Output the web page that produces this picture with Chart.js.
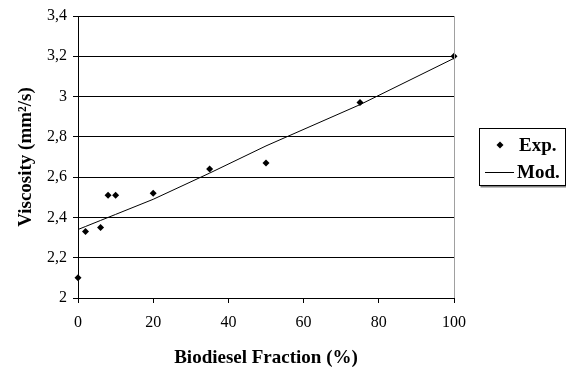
<!DOCTYPE html>
<html>
<head>
<meta charset="utf-8">
<title>Viscosity vs biodiesel fraction</title>
<script src="https://cdn.jsdelivr.net/npm/chart.js@4.4.1/dist/chart.umd.min.js"></script>
<style>
  html, body { margin: 0; padding: 0; background: #fff; }
  #wrap { width: 566px; height: 369px; }
</style>
</head>
<body>
<div id="wrap"><canvas id="viscChart" width="566" height="369"></canvas></div>
<script>
// biodiesel fraction (%) of each blend
const fraction = [0, 2, 6, 8, 10, 20, 35, 50, 75, 100];
// measured viscosity (mm2/s)
const viscosityExp = [2.10, 2.33, 2.35, 2.51, 2.51, 2.52, 2.64, 2.67, 2.97, 3.20];
// model prediction at the same fractions
const viscosityMod = [2.34, 2.355, 2.385, 2.40, 2.415, 2.49, 2.62, 2.755, 2.96, 3.19];

const xTickValues = [0, 20, 40, 60, 80, 100];
const yTickValues = [2, 2.2, 2.4, 2.6, 2.8, 3, 3.2, 3.4];

const SERIF = "'Liberation Serif', 'Times New Roman', serif";

function commaLabel(v) {
  return String(Number(v.toFixed(1))).replace('.', ',');
}

// legend box on the right + grey right border of the plot
const sideLegend = {
  id: 'sideLegend',
  afterDraw(chart) {
    const ctx = chart.ctx;
    const area = chart.chartArea;
    const sets = chart.data.datasets;

    ctx.save();
    ctx.strokeStyle = '#a0a0a0';
    ctx.lineWidth = 1;
    ctx.beginPath();
    ctx.moveTo(Math.round(area.right) + 0.5, area.top);
    ctx.lineTo(Math.round(area.right) + 0.5, area.bottom);
    ctx.stroke();

    const bx = 479.5, by = 128.5, bw = 86, bh = 57;
    ctx.fillStyle = '#808080';
    ctx.fillRect(bx + 1, by + bh, bw, 2);
    ctx.fillStyle = '#fff';
    ctx.fillRect(bx, by, bw, bh);
    ctx.strokeStyle = '#000';
    ctx.strokeRect(bx, by, bw, bh);

    ctx.font = 'bold 19px ' + SERIF;
    ctx.fillStyle = '#000';
    ctx.textBaseline = 'middle';
    ctx.textAlign = 'left';

    // Exp. row: diamond marker
    const y1 = 145;
    ctx.beginPath();
    ctx.moveTo(500, y1 - 3.5);
    ctx.lineTo(503.5, y1);
    ctx.lineTo(500, y1 + 3.5);
    ctx.lineTo(496.5, y1);
    ctx.closePath();
    ctx.fill();
    ctx.fillText(sets[0].label, 519, y1 + 1);

    // Mod. row: line sample
    const y2 = 172;
    ctx.beginPath();
    ctx.moveTo(485, y2 + 0.5);
    ctx.lineTo(514, y2 + 0.5);
    ctx.stroke();
    ctx.fillText(sets[1].label, 517, y2 + 1);
    ctx.restore();
  }
};

new Chart(document.getElementById('viscChart'), {
  type: 'scatter',
  data: {
    datasets: [
      {
        label: 'Exp.',
        data: fraction.map((x, i) => ({ x, y: viscosityExp[i] })),
        pointStyle: 'rectRot',
        pointRadius: 3.5,
        backgroundColor: '#000',
        borderColor: '#000',
        borderWidth: 0,
        clip: false,
      },
      {
        label: 'Mod.',
        data: fraction.map((x, i) => ({ x, y: viscosityMod[i] })),
        showLine: true,
        pointRadius: 0,
        borderColor: '#000',
        borderWidth: 1,
        tension: 0,
      },
    ],
  },
  options: {
    responsive: false,
    animation: false,
    devicePixelRatio: 1,
    layout: { padding: { left: 0, right: 112, top: 16, bottom: 0 } },
    plugins: {
      legend: { display: false },
      tooltip: { enabled: false },
    },
    scales: {
      x: {
        type: 'linear',
        min: 0,
        max: 100,
        afterBuildTicks: (s) => { s.ticks = xTickValues.map(v => ({ value: v })); },
        afterFit: (s) => { s.height = 71; },
        grid: { drawOnChartArea: false, drawTicks: true, tickLength: 5, color: '#000' },
        border: { display: true, color: '#000', width: 1 },
        ticks: { color: '#000', padding: 10, font: { family: SERIF, size: 16 }, maxRotation: 0 },
        title: {
          display: true,
          text: 'Biodiesel Fraction (%)',
          color: '#000',
          font: { family: SERIF, size: 19, weight: 'bold' },
          padding: { top: 0, bottom: 0 },
        },
      },
      y: {
        type: 'linear',
        min: 2,
        max: 3.4,
        afterBuildTicks: (s) => { s.ticks = yTickValues.map(v => ({ value: v })); },
        afterFit: (s) => { s.width = 78; },
        grid: { color: '#000', lineWidth: 1, drawTicks: true, tickLength: 5 },
        border: { display: true, color: '#000', width: 1 },
        ticks: {
          color: '#000',
          padding: 6,
          font: { family: SERIF, size: 16 },
          callback: (v) => commaLabel(v),
        },
        title: {
          display: true,
          text: 'Viscosity (mm²/s)',
          color: '#000',
          font: { family: SERIF, size: 19, weight: 'bold' },
          padding: { top: 15, bottom: 0 },
        },
      },
    },
  },
  plugins: [sideLegend],
});
</script>
</body>
</html>
